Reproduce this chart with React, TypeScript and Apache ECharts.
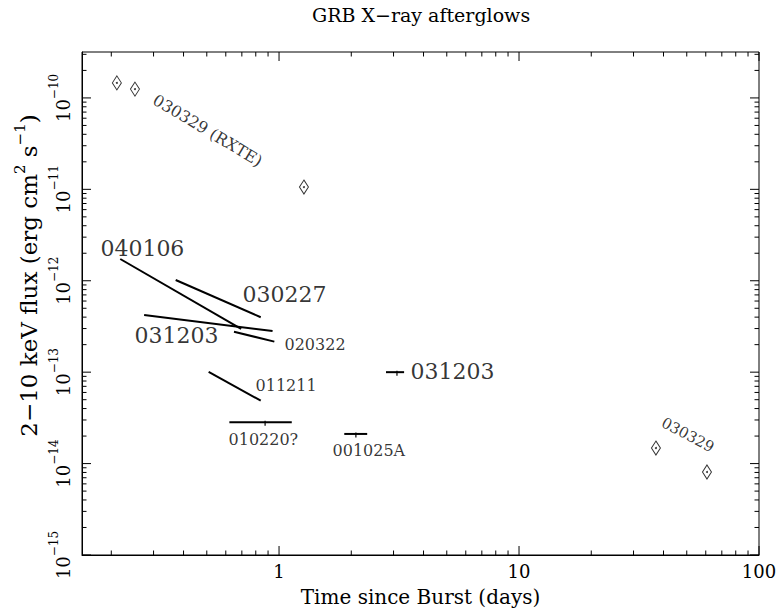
import React, { useEffect, useRef } from "react";
import * as echarts from "echarts";

// ---- data ----
const X_MIN = 0.151;
const X_MAX = 100;
const Y_MIN = 1e-15;
const Y_MAX = 3.18e-10;

// 030329 RXTE / late diamonds
const diamondT = [0.211, 0.251, 1.27, 37.2, 60.7];
const diamondFlux = [1.46e-10, 1.25e-10, 1.06e-11, 1.48e-14, 8.09e-15];

// afterglow decay segments
const segNames = ["040106", "030227", "031203", "020322", "011211", "010220?", "001025A", "031203b"];
const segT0 = [0.218, 0.371, 0.274, 0.649, 0.509, 0.621, 1.87, 2.79];
const segT1 = [0.695, 0.839, 0.94, 0.956, 0.839, 1.13, 2.33, 3.32];
const segF0 = [1.73e-12, 1.02e-12, 4.23e-13, 2.77e-13, 1.01e-13, 2.83e-14, 2.11e-14, 1.0e-13];
const segF1 = [2.97e-13, 3.99e-13, 2.82e-13, 2.16e-13, 4.88e-14, 2.83e-14, 2.11e-14, 1.0e-13];

// small marks at mid of flat segments
const midT = [0.875, 2.09, 3.1];
const midF = [2.83e-14, 2.11e-14, 1.0e-13];

// annotations
const annText = ["040106", "030227", "031203", "020322", "011211", "010220?", "001025A", "031203", "030329 (RXTE)", "030329"];
const annT = [0.181, 0.708, 0.251, 1.059, 0.802, 0.619, 1.679, 3.548, 0.304, 39.8];
const annF = [2.23e-12, 7.0e-13, 2.49e-13, 1.99e-13, 7.06e-14, 1.81e-14, 1.37e-14, 1.0e-13, 9.75e-11, 2.85e-14];
const annSize = [22, 22, 22, 16, 16, 16, 16, 22, 16, 15];
const annRotate = [0, 0, 0, 0, 0, 0, 0, 0, -31, -28];

// tick values / labels
const xTickLabels = ["1", "10", "100"];
const xMajor = [1, 10, 100];
const yMajor = [1e-15, 1e-14, 1e-13, 1e-12, 1e-11, 1e-10];
const minorMult = [2, 3, 4, 5, 6, 7, 8, 9];
const xDecades = [0.1, 1, 10];

const FONT = "DejaVu Serif";
const MAJOR_LEN = 9;
const MINOR_LEN = 4.5;

export default function App() {
  const ref = useRef<HTMLDivElement>(null);
  useEffect(() => {
    if (!ref.current) return;
    const chart = echarts.init(ref.current, null, { renderer: "svg" });

    const xTicks: number[][] = xMajor.map((v) => [v, MAJOR_LEN]);
    xDecades.forEach((d) => minorMult.forEach((m) => { const v = d * m; if (v > X_MIN && v < X_MAX) xTicks.push([v, MINOR_LEN]); }));
    const yTicks: number[][] = yMajor.map((v) => [v, MAJOR_LEN]);
    yMajor.forEach((d) => minorMult.forEach((m) => { const v = d * m; if (v > Y_MIN && v < Y_MAX) yTicks.push([v, MINOR_LEN]); }));

    const segSeries = segNames.map((n, i) => ({
      type: "line",
      name: n,
      data: [[segT0[i], segF0[i]], [segT1[i], segF1[i]]],
      symbol: "none",
      lineStyle: { color: "#000", width: 2 },
      silent: true,
      z: 3,
    }));

    const option: any = {
      animation: false,
      backgroundColor: "#fff",
      title: {
        text: "GRB X\u2212ray afterglows",
        left: 307,
        top: 0,
        textStyle: { fontFamily: FONT, fontWeight: "normal", fontSize: 19, color: "#000" },
      },
      grid: {
        left: 82, right: 17, top: 52, bottom: 57,
        containLabel: false, outerBoundsMode: "none",
        show: true, borderColor: "#000", borderWidth: 1, backgroundColor: "transparent",
      },
      xAxis: {
        type: "log",
        min: X_MIN,
        max: X_MAX,
        axisLine: { show: true, onZero: false, lineStyle: { color: "#000", width: 1 } },
        axisTick: { show: false },
        splitLine: { show: false },
        name: "Time since Burst (days)",
        nameLocation: "middle",
        nameGap: 32,
        nameTextStyle: { fontFamily: FONT, fontSize: 20, color: "#000" },
        axisLabel: {
          show: true,
          margin: 7,
          showMinLabel: false,
          fontFamily: FONT,
          fontSize: 18,
          color: "#000",
          formatter: (v: number) => {
            const e = Math.log10(v);
            if (Math.abs(e - Math.round(e)) > 1e-6 || Math.round(e) < 0) return "";
            return xTickLabels[Math.round(e)] ?? "";
          },
        },
      },
      yAxis: {
        type: "log",
        min: Y_MIN,
        max: Y_MAX,
        axisLine: { show: true, onZero: false, lineStyle: { color: "#000", width: 1 } },
        axisTick: { show: false },
        splitLine: { show: false },
        name: "{a|2\u221210 keV flux (erg cm}{s|2}{a| s}{s|\u22121}{a|)}",
        nameLocation: "middle",
        nameGap: 30,
        nameTextStyle: {
          fontFamily: FONT,
          color: "#000",
          padding: [0, 0, 0, 56],
          rich: {
            a: { fontFamily: FONT, fontSize: 23, lineHeight: 32, color: "#000" },
            s: { fontFamily: FONT, fontSize: 15, lineHeight: 15, verticalAlign: "top", color: "#000" },
          },
        },
        axisLabel: {
          show: true,
          rotate: 90,
          margin: 10,
          showMaxLabel: false,
          fontFamily: FONT,
          color: "#000",
          formatter: (v: number) => {
            const e = Math.log10(v);
            if (Math.abs(e - Math.round(e)) > 1e-6) return "";
            return "{b|10}{s|\u2212" + -Math.round(e) + "}";
          },
          rich: {
            b: { fontFamily: FONT, fontSize: 18, lineHeight: 24, verticalAlign: "bottom", color: "#000" },
            s: { fontFamily: FONT, fontSize: 12, lineHeight: 12, verticalAlign: "top", color: "#000" },
          },
        },
      },
      series: [
        ...segSeries,
        {
          type: "scatter",
          name: "030329",
          data: diamondT.map((t, i) => [t, diamondFlux[i]]),
          symbol: "diamond",
          symbolSize: [9, 14],
          itemStyle: { color: "#fff", borderColor: "#000", borderWidth: 1 },
          silent: true,
          z: 4,
        },
        {
          type: "scatter",
          name: "dots",
          data: diamondT.map((t, i) => [t, diamondFlux[i]]),
          symbol: "circle",
          symbolSize: 2,
          itemStyle: { color: "#000" },
          silent: true,
          z: 5,
        },
        {
          type: "scatter",
          name: "mids",
          data: midT.map((t, i) => [t, midF[i]]),
          symbol: "rect",
          symbolSize: [1.5, 5],
          symbolOffset: [0, 1],
          itemStyle: { color: "#000" },
          silent: true,
          z: 5,
        },
        {
          type: "scatter",
          name: "annotations",
          symbolSize: 1,
          itemStyle: { color: "rgba(0,0,0,0)" },
          silent: true,
          z: 6,
          data: annText.map((s, i) => ({
            name: s,
            value: [annT[i], annF[i]],
            label: {
              show: true,
              position: [0, 0],
              align: "left",
              verticalAlign: "middle",
              formatter: "{b}",
              fontFamily: FONT,
              fontSize: annSize[i],
              rotate: annRotate[i],
              color: "#000",
            },
          })),
        },
      ],
    };
    chart.setOption(option);

    // frame ticks (major + minor), placed through the axes' own scales
    const toPx = (x: number, y: number) => chart.convertToPixel({ xAxisIndex: 0, yAxisIndex: 0 }, [x, y]) as number[];
    const els: any[] = [];
    const tickLine = (x1: number, y1: number, x2: number, y2: number) => ({
      type: "line",
      silent: true,
      z: 100,
      shape: { x1, y1, x2, y2 },
      style: { stroke: "#000", lineWidth: 1 },
    });
    xTicks.forEach(([v, l]) => {
      const b = toPx(v, Y_MIN);
      const t = toPx(v, Y_MAX);
      if (b && t) {
        els.push(tickLine(b[0], b[1], b[0], b[1] - l));
        els.push(tickLine(t[0], t[1], t[0], t[1] + l));
      }
    });
    yTicks.forEach(([v, l]) => {
      const lp = toPx(X_MIN, v);
      const rp = toPx(X_MAX, v);
      if (lp && rp) {
        els.push(tickLine(lp[0], lp[1], lp[0] + l, lp[1]));
        els.push(tickLine(rp[0], rp[1], rp[0] - l, rp[1]));
      }
    });
    chart.setOption({ graphic: { elements: els } });

    return () => chart.dispose();
  }, []);
  return <div ref={ref} style={{ width: 776, height: 612, position: "absolute", left: 0, top: 0 }} />;
}
